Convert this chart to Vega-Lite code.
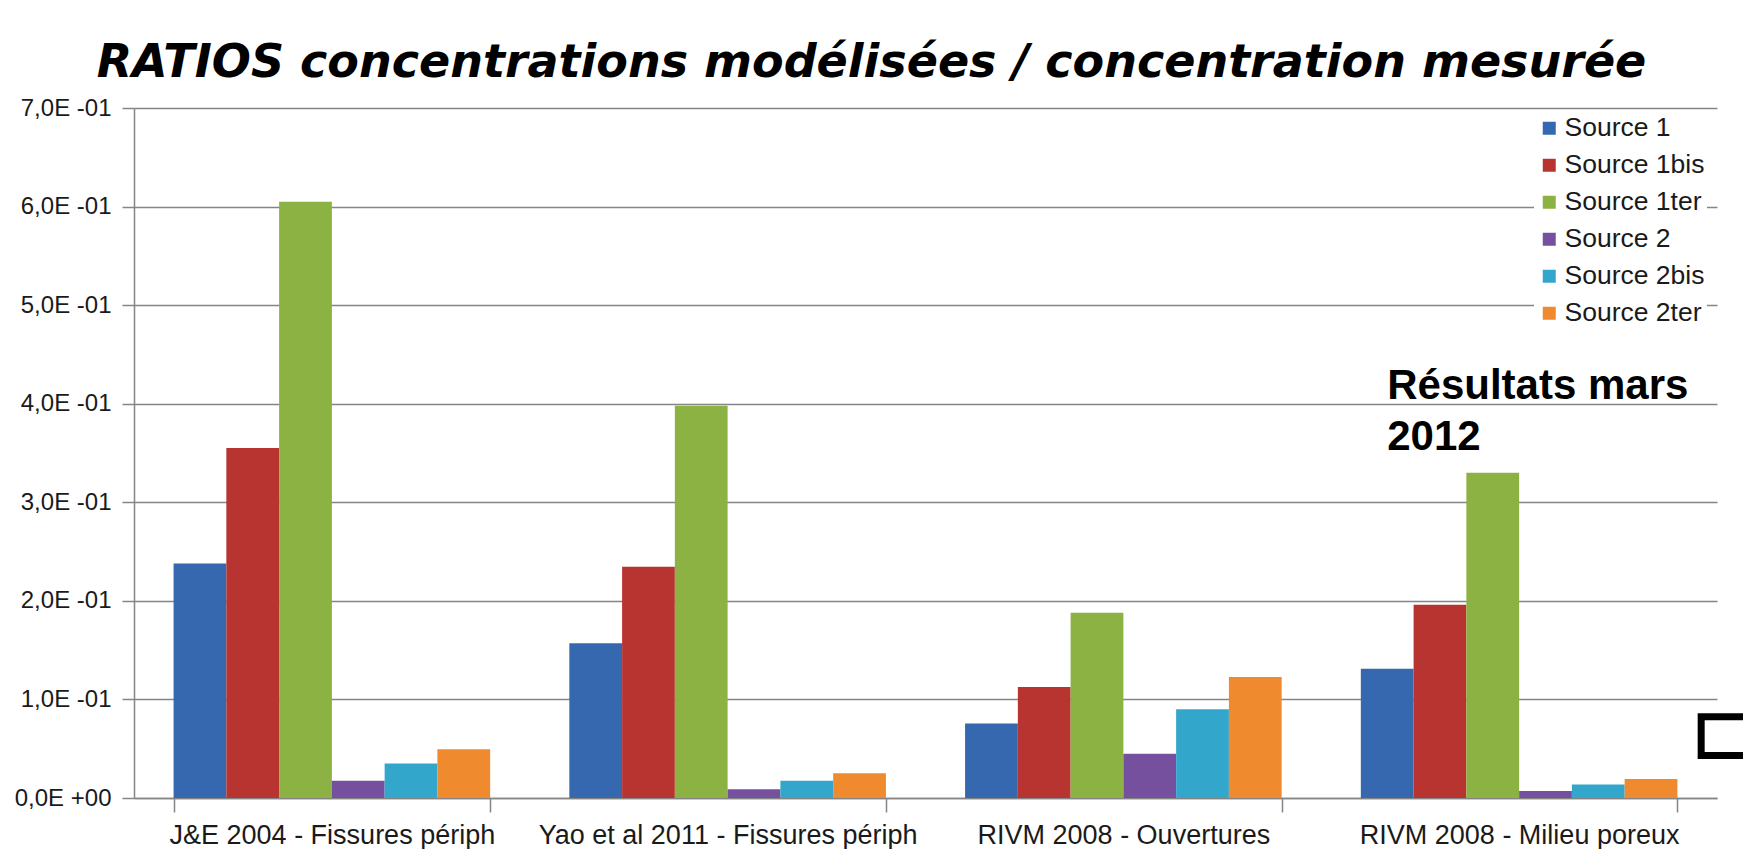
{
  "$schema": "https://vega.github.io/schema/vega-lite/v6.json",
  "width": 1583,
  "height": 690,
  "autosize": "none",
  "padding": {"left": 134, "top": 108, "right": 26, "bottom": 51},
  "background": "white",
  "title": {
    "text": "RATIOS concentrations modélisées / concentration mesurée",
    "font": "DejaVu Sans",
    "fontSize": 46,
    "fontWeight": "bold",
    "fontStyle": "italic",
    "color": "black",
    "anchor": "middle",
    "frame": "group",
    "dx": -54,
    "dy": 61,
    "baseline": "alphabetic",
    "offset": 34
  },
  "datasets": {
    "ratios": [
      {"etude": "J&E 2004 - Fissures périph", "source": "Source 1", "ratio": 0.238},
      {"etude": "J&E 2004 - Fissures périph", "source": "Source 1bis", "ratio": 0.355},
      {"etude": "J&E 2004 - Fissures périph", "source": "Source 1ter", "ratio": 0.605},
      {"etude": "J&E 2004 - Fissures périph", "source": "Source 2", "ratio": 0.0175},
      {"etude": "J&E 2004 - Fissures périph", "source": "Source 2bis", "ratio": 0.035},
      {"etude": "J&E 2004 - Fissures périph", "source": "Source 2ter", "ratio": 0.0495},
      {"etude": "Yao et al 2011 - Fissures périph", "source": "Source 1", "ratio": 0.157},
      {"etude": "Yao et al 2011 - Fissures périph", "source": "Source 1bis", "ratio": 0.2345},
      {"etude": "Yao et al 2011 - Fissures périph", "source": "Source 1ter", "ratio": 0.398},
      {"etude": "Yao et al 2011 - Fissures périph", "source": "Source 2", "ratio": 0.0088},
      {"etude": "Yao et al 2011 - Fissures périph", "source": "Source 2bis", "ratio": 0.0175},
      {"etude": "Yao et al 2011 - Fissures périph", "source": "Source 2ter", "ratio": 0.025},
      {"etude": "RIVM 2008 - Ouvertures", "source": "Source 1", "ratio": 0.0755},
      {"etude": "RIVM 2008 - Ouvertures", "source": "Source 1bis", "ratio": 0.1125},
      {"etude": "RIVM 2008 - Ouvertures", "source": "Source 1ter", "ratio": 0.188},
      {"etude": "RIVM 2008 - Ouvertures", "source": "Source 2", "ratio": 0.045},
      {"etude": "RIVM 2008 - Ouvertures", "source": "Source 2bis", "ratio": 0.09},
      {"etude": "RIVM 2008 - Ouvertures", "source": "Source 2ter", "ratio": 0.1227},
      {"etude": "RIVM 2008 - Milieu poreux", "source": "Source 1", "ratio": 0.131},
      {"etude": "RIVM 2008 - Milieu poreux", "source": "Source 1bis", "ratio": 0.196},
      {"etude": "RIVM 2008 - Milieu poreux", "source": "Source 1ter", "ratio": 0.33},
      {"etude": "RIVM 2008 - Milieu poreux", "source": "Source 2", "ratio": 0.007},
      {"etude": "RIVM 2008 - Milieu poreux", "source": "Source 2bis", "ratio": 0.0138},
      {"etude": "RIVM 2008 - Milieu poreux", "source": "Source 2ter", "ratio": 0.0192}
    ],
    "notes": [
      {"etude": "RIVM 2008 - Milieu poreux", "source": "Source 1", "ratio": 0.405, "note": "Résultats mars\n2012"}
    ],
    "cadre": [
      {"gauche": 0.99, "droite": 1.06, "bas": 0.043, "haut": 0.0824}
    ]
  },
  "layer": [
    {
      "layer": [
        {
          "data": {"name": "ratios"},
          "mark": {"type": "bar"},
          "encoding": {
            "x": {
              "field": "etude",
              "type": "nominal",
              "sort": null,
              "scale": {
                "domain": ["J&E 2004 - Fissures périph", "Yao et al 2011 - Fissures périph", "RIVM 2008 - Ouvertures", "RIVM 2008 - Milieu poreux"],
                "paddingInner": 0.2,
                "paddingOuter": 0.1
              },
              "axis": {
                "title": null,
                "labelAngle": 0,
                "labelLimit": 0,
                "tickBand": "extent",
                "tickSize": 14,
                "labelPadding": 10,
                "labelFontSize": 27,
                "labelFont": "Liberation Sans",
                "labelColor": "#1a1a1a",
                "domainColor": "#858585",
                "domainWidth": 1.5,
                "tickColor": "#858585",
                "tickWidth": 1.5,
                "grid": false
              }
            },
            "xOffset": {
              "field": "source",
              "type": "nominal",
              "scale": {
                "domain": ["Source 1", "Source 1bis", "Source 1ter", "Source 2", "Source 2bis", "Source 2ter"],
                "paddingInner": 0,
                "paddingOuter": 0
              }
            },
            "y": {
              "field": "ratio",
              "type": "quantitative",
              "scale": {"domain": [0, 0.7], "nice": false},
              "axis": {
                "title": null,
                "values": [0, 0.1, 0.2, 0.3, 0.4, 0.5, 0.6, 0.7],
                "labelExpr": "datum.value == 0 ? '0,0E +00' : replace(format(datum.value * 10, '.1f'), '.', ',') + 'E -01'",
                "labelFontSize": 24,
                "labelFont": "Liberation Sans",
                "labelColor": "#1a1a1a",
                "labelPadding": 11,
                "tickSize": 12,
                "tickColor": "#858585",
                "tickWidth": 1.5,
                "domainColor": "#858585",
                "domainWidth": 1.5,
                "gridColor": "#858585",
                "gridWidth": 1.5
              }
            },
            "color": {
              "field": "source",
              "type": "nominal",
              "scale": {
                "domain": ["Source 1", "Source 1bis", "Source 1ter", "Source 2", "Source 2bis", "Source 2ter"],
                "range": ["#3668b0", "#b83430", "#8cb244", "#74509e", "#33a6cc", "#f08a2e"]
              },
              "legend": {
                "title": null,
                "orient": "none",
                "legendX": 1400,
                "legendY": 5,
                "padding": 2,
                "fillColor": "white",
                "symbolType": "square",
                "symbolSize": 169,
                "symbolStrokeWidth": 0,
                "labelFontSize": 26.5,
                "labelFont": "Liberation Sans",
                "labelColor": "#1a1a1a",
                "labelOffset": 2,
                "rowPadding": 10
              }
            }
          }
        },
        {
          "data": {"name": "notes"},
          "mark": {
            "type": "text",
            "font": "Liberation Sans",
            "fontSize": 42,
            "fontWeight": "bold",
            "color": "black",
            "align": "left",
            "baseline": "alphabetic",
            "lineBreak": "\n",
            "lineHeight": 51
          },
          "encoding": {
            "x": {"field": "etude", "type": "nominal"},
            "xOffset": {"field": "source", "type": "nominal"},
            "y": {"field": "ratio", "type": "quantitative"},
            "text": {"field": "note", "type": "nominal"}
          }
        }
      ]
    },
    {
      "data": {"name": "cadre"},
      "mark": {"type": "rect", "fillOpacity": 0, "stroke": "black", "strokeWidth": 7},
      "encoding": {
        "x": {"field": "gauche", "type": "quantitative", "scale": {"domain": [0, 1]}, "axis": null},
        "x2": {"field": "droite"},
        "y": {"field": "bas", "type": "quantitative"},
        "y2": {"field": "haut"}
      }
    }
  ],
  "resolve": {"scale": {"x": "independent"}},
  "config": {"view": {"stroke": null}}
}
